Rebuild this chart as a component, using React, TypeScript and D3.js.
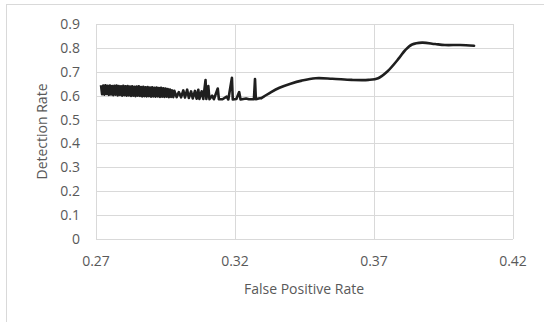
import React from "react";
import * as d3 from "d3";

const fpr: number[] = [
  0.2718, 0.2722, 0.2726, 0.2730, 0.2734, 0.2738, 0.2742, 0.2746, 0.2750, 0.2754,
  0.2758, 0.2762, 0.2766, 0.2770, 0.2774, 0.2778, 0.2782, 0.2786, 0.2790, 0.2794,
  0.2798, 0.2802, 0.2806, 0.2810, 0.2814, 0.2818, 0.2822, 0.2826, 0.2830, 0.2834,
  0.2838, 0.2842, 0.2846, 0.2850, 0.2854, 0.2858, 0.2862, 0.2866, 0.2870, 0.2874,
  0.2878, 0.2882, 0.2886, 0.2890, 0.2894, 0.2898, 0.2902, 0.2906, 0.2910, 0.2914,
  0.2918, 0.2922, 0.2926, 0.2930, 0.2934, 0.2938, 0.2942, 0.2946, 0.2950, 0.2954,
  0.2958, 0.2962, 0.2966, 0.2970, 0.2974, 0.2978,
  0.2982, 0.2990, 0.2998, 0.3006, 0.3014, 0.3020, 0.3028, 0.3034, 0.3042, 0.3048,
  0.3056, 0.3062, 0.3068, 0.3072, 0.3080, 0.3086, 0.3094, 0.3097, 0.3104, 0.3108,
  0.3118, 0.3124, 0.3138, 0.3142, 0.3155, 0.3170, 0.3176, 0.3189, 0.3192, 0.3205,
  0.3215, 0.3220, 0.3240, 0.3250, 0.3268, 0.3272, 0.3275, 0.3285, 0.3295, 0.3305,
  0.3330, 0.3360, 0.3400, 0.3440, 0.3490, 0.3550, 0.3620, 0.3680, 0.3715, 0.3747,
  0.3790, 0.3812, 0.3837, 0.3873, 0.3920, 0.3955, 0.4010, 0.4060,
];

const detectionRate: number[] = [
  0.644, 0.606, 0.642, 0.604, 0.643, 0.607, 0.641, 0.603, 0.642, 0.605,
  0.640, 0.602, 0.641, 0.604, 0.642, 0.601, 0.640, 0.603, 0.639, 0.600,
  0.641, 0.602, 0.639, 0.600, 0.640, 0.601, 0.638, 0.599, 0.639, 0.600,
  0.637, 0.598, 0.638, 0.600, 0.639, 0.599, 0.636, 0.597, 0.637, 0.598,
  0.635, 0.597, 0.636, 0.598, 0.634, 0.596, 0.635, 0.597, 0.633, 0.596,
  0.634, 0.597, 0.632, 0.595, 0.633, 0.596, 0.631, 0.595, 0.630, 0.596,
  0.628, 0.594, 0.626, 0.595, 0.622, 0.594,
  0.620, 0.594, 0.615, 0.593, 0.622, 0.592, 0.625, 0.590, 0.618, 0.588,
  0.620, 0.587, 0.625, 0.586, 0.618, 0.586, 0.665, 0.586, 0.640, 0.585,
  0.600, 0.585, 0.630, 0.585, 0.585, 0.596, 0.584, 0.675, 0.584, 0.586,
  0.615, 0.584, 0.588, 0.585, 0.585, 0.670, 0.585, 0.588, 0.590, 0.597,
  0.615, 0.633, 0.650, 0.663, 0.673, 0.671, 0.666, 0.666, 0.673, 0.700,
  0.757, 0.790, 0.814, 0.822, 0.816, 0.812, 0.812, 0.809,
];

const xTicks: number[] = [0.27, 0.32, 0.37, 0.42];
const yTicks: number[] = [0, 0.1, 0.2, 0.3, 0.4, 0.5, 0.6, 0.7, 0.8, 0.9];
const xTitle = "False Positive Rate";
const yTitle = "Detection Rate";

const W = 544;
const H = 322;
const plot = { left: 96, right: 513, top: 24, bottom: 239 };
const textColor = "#595959";
const gridColor = "#d9d9d9";
const font = "'Open Sans', sans-serif";

export default function App() {
  const x = d3.scaleLinear().domain([0.27, 0.42]).range([plot.left, plot.right]);
  const y = d3.scaleLinear().domain([0, 0.9]).range([plot.bottom, plot.top]);
  const pts: [number, number][] = fpr.map((v, i) => [v, detectionRate[i]]);
  const split = fpr.findIndex((v) => v >= 0.3295);
  const noisy = pts.slice(0, split + 1);
  const smooth = pts.slice(split);
  const lineLinear = d3
    .line<[number, number]>()
    .x((d) => x(d[0]))
    .y((d) => y(d[1]));
  const lineSmooth = d3
    .line<[number, number]>()
    .x((d) => x(d[0]))
    .y((d) => y(d[1]))
    .curve(d3.curveCatmullRom.alpha(0.5));

  return (
    <svg
      width={W}
      height={H}
      style={{ position: "absolute", left: 0, top: 0, background: "#fff" }}
    >
      <rect x={0} y={0} width={W} height={H} fill="#fff" />
      <rect x={6.5} y={4.5} width={W + 10} height={H + 10} fill="#fff" stroke={gridColor} strokeWidth={1} />
      {yTicks.map((t) => (
        <line
          key={"gy" + t}
          x1={plot.left}
          x2={plot.right}
          y1={Math.round(y(t)) + 0.5}
          y2={Math.round(y(t)) + 0.5}
          stroke={gridColor}
          strokeWidth={1}
        />
      ))}
      {xTicks.map((t) => (
        <line
          key={"gx" + t}
          x1={Math.round(x(t)) + 0.5}
          x2={Math.round(x(t)) + 0.5}
          y1={plot.top}
          y2={plot.bottom}
          stroke={gridColor}
          strokeWidth={1}
        />
      ))}
      <path d={lineLinear(noisy) || ""} fill="none" stroke="#1f1f1f" strokeWidth={2.6} strokeLinejoin="round" />
      <path d={lineSmooth(smooth) || ""} fill="none" stroke="#1f1f1f" strokeWidth={2.6} strokeLinejoin="round" strokeLinecap="round" />
      {yTicks.map((t) => (
        <text
          key={"ty" + t}
          x={80}
          y={y(t)}
          dy="0.36em"
          textAnchor="end"
          fontFamily={font}
          fontSize={14}
          fill={textColor}
        >
          {String(+t.toFixed(1))}
        </text>
      ))}
      {xTicks.map((t) => (
        <text
          key={"tx" + t}
          x={x(t)}
          y={266}
          textAnchor="middle"
          fontFamily={font}
          fontSize={14}
          fill={textColor}
        >
          {t.toFixed(2)}
        </text>
      ))}
      <text x={304} y={294} textAnchor="middle" fontFamily={font} fontSize={14} fill={textColor}>
        {xTitle}
      </text>
      <text
        transform={`translate(47,131.5) rotate(-90)`}
        textAnchor="middle"
        fontFamily={font}
        fontSize={14}
        fill={textColor}
      >
        {yTitle}
      </text>
    </svg>
  );
}
